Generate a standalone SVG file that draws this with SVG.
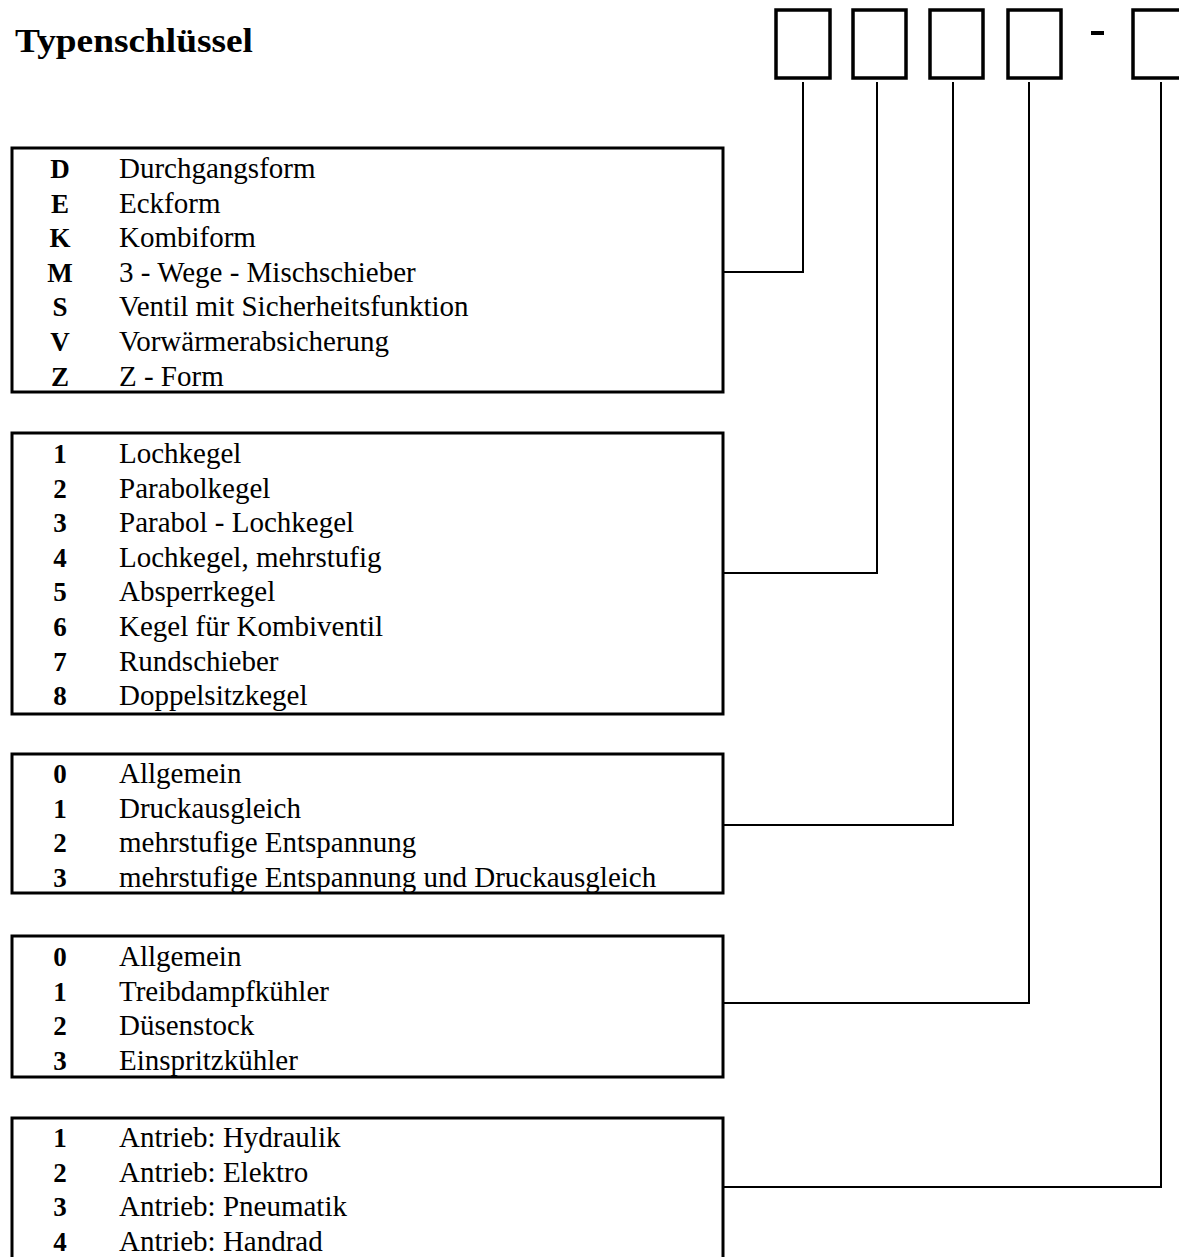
<svg xmlns="http://www.w3.org/2000/svg" width="1179" height="1257" viewBox="0 0 1179 1257">
<style>
.box{fill:none;stroke:#000;stroke-width:3}
.slot{fill:none;stroke:#000;stroke-width:3.5}
.con{fill:none;stroke:#000;stroke-width:2}
.t{font-family:"Liberation Serif","Times New Roman",serif;font-size:29px;fill:#000}
.k{font-family:"Liberation Serif","Times New Roman",serif;font-size:27px;font-weight:bold;fill:#000;text-anchor:middle}
.title{font-family:"Liberation Serif","Times New Roman",serif;font-size:34px;font-weight:bold;fill:#000}
</style>
<rect width="1179" height="1257" fill="#fff"/>
<text class="title" x="15" y="52" textLength="238" lengthAdjust="spacingAndGlyphs">Typenschlüssel</text>
<g id="slots">
<rect class="slot" x="776" y="10" width="54" height="68"/>
<rect class="slot" x="853" y="10" width="53" height="68"/>
<rect class="slot" x="930" y="10" width="53" height="68"/>
<rect class="slot" x="1008" y="10" width="53" height="68"/>
<rect x="1091" y="31" width="13" height="4" fill="#000"/>
<rect class="slot" x="1133" y="10" width="60" height="68"/>
</g>
<g id="connectors">
<polyline class="con" points="803,82 803,272 723,272"/>
<polyline class="con" points="877,82 877,573 723,573"/>
<polyline class="con" points="953,82 953,825 723,825"/>
<polyline class="con" points="1029,82 1029,1003 723,1003"/>
<polyline class="con" points="1161,82 1161,1187 723,1187"/>
</g>
<g id="box1">
<rect class="box" x="12" y="148" width="711" height="244"/>
<text class="k" x="60" y="178">D</text><text class="t" x="119" y="178">Durchgangsform</text>
<text class="k" x="60" y="212.6">E</text><text class="t" x="119" y="212.6">Eckform</text>
<text class="k" x="60" y="247.2">K</text><text class="t" x="119" y="247.2">Kombiform</text>
<text class="k" x="60" y="281.8">M</text><text class="t" x="119" y="281.8">3 - Wege - Mischschieber</text>
<text class="k" x="60" y="316.4">S</text><text class="t" x="119" y="316.4">Ventil mit Sicherheitsfunktion</text>
<text class="k" x="60" y="351">V</text><text class="t" x="119" y="351">Vorwärmerabsicherung</text>
<text class="k" x="60" y="385.6">Z</text><text class="t" x="119" y="385.6">Z - Form</text>
</g>
<g id="box2">
<rect class="box" x="12" y="433" width="711" height="281"/>
<text class="k" x="60" y="463">1</text><text class="t" x="119" y="463">Lochkegel</text>
<text class="k" x="60" y="497.6">2</text><text class="t" x="119" y="497.6">Parabolkegel</text>
<text class="k" x="60" y="532.2">3</text><text class="t" x="119" y="532.2">Parabol - Lochkegel</text>
<text class="k" x="60" y="566.8">4</text><text class="t" x="119" y="566.8">Lochkegel, mehrstufig</text>
<text class="k" x="60" y="601.4">5</text><text class="t" x="119" y="601.4">Absperrkegel</text>
<text class="k" x="60" y="636">6</text><text class="t" x="119" y="636">Kegel für Kombiventil</text>
<text class="k" x="60" y="670.6">7</text><text class="t" x="119" y="670.6">Rundschieber</text>
<text class="k" x="60" y="705.2">8</text><text class="t" x="119" y="705.2">Doppelsitzkegel</text>
</g>
<g id="box3">
<rect class="box" x="12" y="754" width="711" height="139"/>
<text class="k" x="60" y="783">0</text><text class="t" x="119" y="783">Allgemein</text>
<text class="k" x="60" y="817.6">1</text><text class="t" x="119" y="817.6">Druckausgleich</text>
<text class="k" x="60" y="852.2">2</text><text class="t" x="119" y="852.2">mehrstufige Entspannung</text>
<text class="k" x="60" y="886.8">3</text><text class="t" x="119" y="886.8">mehrstufige Entspannung und Druckausgleich</text>
</g>
<g id="box4">
<rect class="box" x="12" y="936" width="711" height="141"/>
<text class="k" x="60" y="966">0</text><text class="t" x="119" y="966">Allgemein</text>
<text class="k" x="60" y="1000.6">1</text><text class="t" x="119" y="1000.6">Treibdampfkühler</text>
<text class="k" x="60" y="1035.2">2</text><text class="t" x="119" y="1035.2">Düsenstock</text>
<text class="k" x="60" y="1069.8">3</text><text class="t" x="119" y="1069.8">Einspritzkühler</text>
</g>
<g id="box5">
<rect class="box" x="12" y="1118" width="711" height="150"/>
<text class="k" x="60" y="1147">1</text><text class="t" x="119" y="1147">Antrieb: Hydraulik</text>
<text class="k" x="60" y="1181.6">2</text><text class="t" x="119" y="1181.6">Antrieb: Elektro</text>
<text class="k" x="60" y="1216.2">3</text><text class="t" x="119" y="1216.2">Antrieb: Pneumatik</text>
<text class="k" x="60" y="1250.8">4</text><text class="t" x="119" y="1250.8">Antrieb: Handrad</text>
</g>
</svg>
